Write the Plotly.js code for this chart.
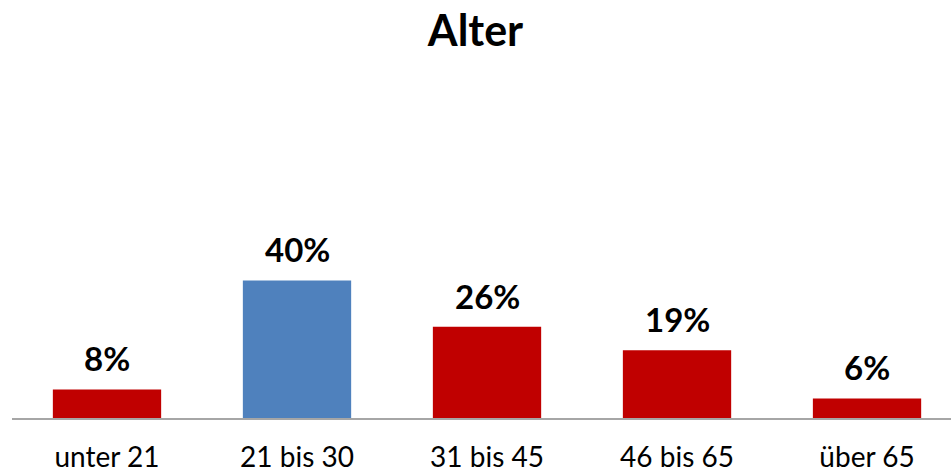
<!DOCTYPE html>
<html>
<head>
<meta charset="utf-8">
<script src="https://cdn.plot.ly/plotly-3.0.1.min.js"></script>
<style>html,body{margin:0;padding:0;background:#fff;}#chart{width:951px;height:474px;}</style>
</head>
<body>
<div id="chart"></div>
<script>
const categories = ["unter 21", "21 bis 30", "31 bis 45", "46 bis 65", "über 65"];
const values = [8.3, 40, 26.5, 19.7, 5.7];
const labels = ["8%", "40%", "26%", "19%", "6%"];
const colors = ["#C00000", "#4F81BD", "#C00000", "#C00000", "#C00000"];

const FONT = "Lato, 'Open Sans', 'Liberation Sans', sans-serif";

const trace = {
  type: "bar",
  x: categories,
  y: values,
  marker: {color: colors, line: {width: 0}},
  hoverinfo: "none"
};

const annotations = categories.map((c, i) => ({
  x: c, y: values[i], xref: "x", yref: "y",
  text: "<b>" + labels[i] + "</b>",
  showarrow: false, yanchor: "bottom", yshift: 9,
  font: {family: FONT, size: 33, color: "#000"}
}));

const layout = {
  width: 951, height: 474,
  margin: {l: 12, r: 0, t: 74, b: 56},
  paper_bgcolor: "#fff", plot_bgcolor: "#fff",
  title: {text: "<b>Alter</b>", x: 0.5, xanchor: "center", y: 0.935, yanchor: "middle",
          font: {family: FONT, size: 43, color: "#000"}},
  showlegend: false,
  bargap: 0.43,
  xaxis: {range: [-0.5, 4.442], showline: true, linecolor: "#a6a6a6", linewidth: 1.5, ticks: "outside", ticklen: 14,
          tickcolor: "rgba(0,0,0,0)", tickfont: {family: FONT, size: 28, color: "#000"},
          showgrid: false, zeroline: false, fixedrange: true},
  yaxis: {range: [0, 100], visible: false, showgrid: false, zeroline: false, fixedrange: true},
  annotations: annotations
};

Plotly.newPlot("chart", [trace], layout, {displayModeBar: false, staticPlot: true});
</script>
</body>
</html>
